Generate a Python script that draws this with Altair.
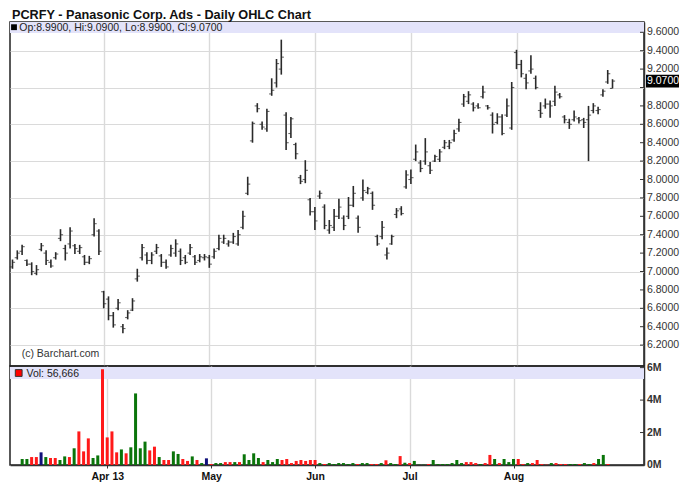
import altair as alt
import pandas as pd

# ---------------- data ----------------
hi = [7.13, 7.23, 7.29, 7.13, 7.10, 7.07, 7.31, 7.23, 7.13, 7.21,
      7.46, 7.29, 7.48, 7.30, 7.29, 7.18, 7.17, 7.58, 7.46, 6.79,
      6.73, 6.56, 6.70, 6.43, 6.58, 6.71, 7.03, 7.30, 7.21, 7.21,
      7.30, 7.19, 7.13, 7.29, 7.35, 7.25, 7.18, 7.30, 7.18, 7.19,
      7.19, 7.18, 7.25, 7.40, 7.40, 7.34, 7.42, 7.45, 7.66, 8.03,
      8.63, 8.83, 8.63, 8.77, 9.10, 9.31, 9.52, 8.73, 8.68, 8.40,
      8.05, 8.21, 7.80, 7.70, 7.88, 7.73, 7.56, 7.68, 7.79, 7.61,
      7.81, 7.93, 7.61, 8.00, 7.92, 7.87, 7.40, 7.55, 7.26, 7.40,
      7.69, 7.71, 8.10, 8.11, 8.38, 8.21, 8.45, 8.19, 8.27, 8.33,
      8.43, 8.43, 8.54, 8.66, 8.93, 8.96, 8.84, 8.83, 9.02, 8.81,
      8.73, 8.72, 8.71, 8.88, 9.06, 9.41, 9.30, 9.15, 9.35, 9.13,
      8.84, 8.88, 8.86, 9.02, 8.94, 8.70, 8.66, 8.75, 8.68, 8.67,
      8.80, 8.83, 8.79, 8.98, 9.19, 9.09]
lo = [7.03, 7.13, 7.18, 7.06, 6.96, 6.96, 7.22, 7.07, 7.04, 7.13,
      7.33, 7.12, 7.25, 7.19, 7.19, 7.07, 7.08, 7.38, 7.18, 6.60,
      6.47, 6.39, 6.58, 6.33, 6.48, 6.57, 6.89, 7.12, 7.08, 7.08,
      7.19, 7.05, 7.03, 7.16, 7.16, 7.07, 7.08, 7.18, 7.07, 7.10,
      7.12, 7.04, 7.14, 7.23, 7.30, 7.27, 7.30, 7.28, 7.46, 7.83,
      8.40, 8.73, 8.54, 8.52, 8.91, 9.00, 9.14, 8.32, 8.45, 8.22,
      7.95, 7.96, 7.61, 7.45, 7.79, 7.46, 7.41, 7.44, 7.57, 7.45,
      7.57, 7.70, 7.42, 7.77, 7.84, 7.67, 7.28, 7.35, 7.13, 7.29,
      7.58, 7.61, 7.90, 7.95, 8.20, 8.08, 8.16, 8.06, 8.19, 8.19,
      8.33, 8.33, 8.41, 8.52, 8.79, 8.82, 8.74, 8.77, 8.88, 8.76,
      8.50, 8.60, 8.48, 8.68, 8.54, 9.20, 9.11, 8.98, 9.15, 8.98,
      8.67, 8.77, 8.67, 8.80, 8.88, 8.61, 8.55, 8.63, 8.61, 8.56,
      8.20, 8.72, 8.71, 8.90, 9.04, 8.99]
op = [7.05, 7.15, 7.22, 7.12, 7.08, 6.98, 7.24, 7.20, 7.10, 7.15,
      7.36, 7.25, 7.30, 7.28, 7.22, 7.16, 7.10, 7.40, 7.44, 6.78,
      6.70, 6.52, 6.60, 6.40, 6.50, 6.58, 6.92, 7.15, 7.18, 7.12,
      7.22, 7.17, 7.10, 7.18, 7.20, 7.22, 7.15, 7.20, 7.16, 7.12,
      7.15, 7.15, 7.16, 7.25, 7.32, 7.30, 7.32, 7.30, 7.48, 7.85,
      8.42, 8.80, 8.60, 8.55, 8.93, 9.05, 9.20, 8.70, 8.50, 8.38,
      8.02, 8.00, 7.78, 7.65, 7.82, 7.70, 7.45, 7.48, 7.60, 7.58,
      7.60, 7.72, 7.58, 7.80, 7.86, 7.85, 7.38, 7.38, 7.18, 7.30,
      7.62, 7.68, 7.92, 8.00, 8.22, 8.18, 8.20, 8.15, 8.20, 8.22,
      8.35, 8.36, 8.43, 8.55, 8.82, 8.85, 8.82, 8.80, 8.90, 8.80,
      8.70, 8.62, 8.68, 8.70, 8.56, 9.38, 9.25, 9.10, 9.18, 9.10,
      8.75, 8.80, 8.82, 8.85, 8.92, 8.68, 8.62, 8.65, 8.66, 8.65,
      8.65, 8.75, 8.75, 8.92, 9.06, 8.99]
cl = [7.10, 7.20, 7.27, 7.08, 7.00, 7.02, 7.28, 7.12, 7.06, 7.19,
      7.40, 7.20, 7.44, 7.25, 7.26, 7.10, 7.14, 7.52, 7.22, 6.65,
      6.52, 6.42, 6.66, 6.38, 6.55, 6.68, 6.95, 7.26, 7.12, 7.18,
      7.26, 7.10, 7.05, 7.25, 7.30, 7.12, 7.10, 7.26, 7.10, 7.16,
      7.16, 7.08, 7.22, 7.36, 7.36, 7.32, 7.38, 7.40, 7.60, 7.95,
      8.61, 8.77, 8.57, 8.74, 8.97, 9.26, 9.33, 8.40, 8.66, 8.28,
      7.98, 8.10, 7.65, 7.55, 7.85, 7.50, 7.50, 7.60, 7.70, 7.50,
      7.72, 7.85, 7.48, 7.88, 7.90, 7.72, 7.30, 7.48, 7.20, 7.38,
      7.66, 7.63, 8.05, 8.02, 8.30, 8.12, 8.30, 8.10, 8.25, 8.30,
      8.40, 8.40, 8.50, 8.62, 8.90, 8.92, 8.78, 8.78, 8.95, 8.78,
      8.60, 8.68, 8.50, 8.80, 9.00, 9.25, 9.15, 9.05, 9.20, 9.00,
      8.72, 8.82, 8.80, 8.95, 8.90, 8.65, 8.60, 8.68, 8.64, 8.62,
      8.70, 8.80, 8.76, 8.96, 9.15, 9.07]
# volume in millions of shares
vol = [0.00, 0.37, 0.37, 0.49, 0.49, 0.78, 0.49, 0.43, 0.43, 0.31,
       0.53, 0.49, 1.03, 2.07, 0.84, 1.64, 0.43, 0.59, 5.90, 1.70,
       2.07, 0.78, 0.96, 0.72, 1.09, 4.41, 1.03, 1.44, 0.90, 1.13,
       0.49, 0.31, 0.31, 0.84, 0.68, 0.37, 0.25, 0.53, 0.31, 0.12,
       0.41, 0.06, 0.12, 0.12, 0.18, 0.18, 0.18, 0.18, 0.66, 0.31,
       0.72, 0.43, 0.18, 0.31, 0.18, 0.37, 0.31, 0.37, 0.12, 0.25,
       0.31, 0.25, 0.31, 0.31, 0.12, 0.06, 0.12, 0.06, 0.12, 0.12,
       0.06, 0.12, 0.06, 0.12, 0.12, 0.06, 0.06, 0.12, 0.29, 0.12,
       0.06, 0.55, 0.14, 0.12, 0.25, 0.02, 0.02, 0.06, 0.31, 0.06,
       0.06, 0.06, 0.12, 0.31, 0.12, 0.18, 0.18, 0.12, 0.06, 0.12,
       0.62, 0.37, 0.12, 0.37, 0.18, 0.37, 0.37, 0.06, 0.12, 0.12,
       0.31, 0.06, 0.02, 0.12, 0.12, 0.06, 0.06, 0.06, 0.06, 0.06,
       0.12, 0.06, 0.12, 0.37, 0.62, 0.06]
vdir = ["unch", "up", "up", "down", "down", "unch", "up", "down", "down", "up",
        "up", "down", "up", "down", "down", "down", "up", "up", "down", "down",
        "down", "down", "up", "down", "up", "up", "up", "up", "down", "down",
        "up", "down", "down", "up", "up", "down", "down", "up", "down", "up",
        "unch", "down", "up", "up", "down", "down", "up", "down", "up", "up",
        "up", "up", "down", "up", "up", "up", "down", "down", "down", "down",
        "down", "down", "down", "down", "up", "down", "up", "up", "up", "up",
        "up", "up", "down", "up", "up", "down", "down", "up", "down", "up",
        "up", "down", "up", "down", "up", "up", "up", "down", "up", "up",
        "up", "up", "up", "up", "up", "down", "down", "down", "up", "down",
        "down", "up", "down", "up", "up", "up", "down", "down", "up", "down",
        "down", "down", "down", "up", "down", "down", "down", "up", "up", "down",
        "up", "up", "down", "up", "up", "down"]

month_idx = [19, 41, 63, 83, 105]
month_lbl = ["Apr 13", "May", "Jun", "Jul", "Aug"]
price_ticks = [6.2, 6.4, 6.6, 6.8, 7.0, 7.2, 7.4, 7.6, 7.8, 8.0, 8.2, 8.4,
               8.6, 8.8, 9.0, 9.2, 9.4, 9.6]
vol_ticks = [0, 2, 4, 6]

title_txt = "PCRFY - Panasonic Corp. Ads - Daily OHLC Chart"
ohlc_txt = "Op:8.9900, Hi:9.0900, Lo:8.9900, Cl:9.0700"
vol_txt = "Vol: 56,666"
copy_txt = "(c) Barchart.com"
last_close = 9.07

# ---------------- frames ----------------
df = pd.DataFrame({"i": list(range(len(hi))), "o": op, "h": hi, "l": lo,
                   "c": cl, "v": vol, "d": vdir})
one = pd.DataFrame({"k": [0]})
# the 9.0000 label sits under the last-price box in the reference, so it is not written
pt = pd.DataFrame({"t": price_ticks,
                   "lab": ["" if abs(t - last_close) < 0.1 else f"{t:.4f}" for t in price_ticks]})
vt = pd.DataFrame({"t": vol_ticks, "lab": [f"{t}M" for t in vol_ticks]})
last = pd.DataFrame({"c": [last_close], "lo": [last_close - 0.07],
                     "hi": [last_close + 0.07],
                     "s": [f"{last_close:.4f}"]})

W = 634
PH = 344
VH = 99
FONT = "Liberation Sans"
GRID = "#dadada"
INK = "#2a2a2a"

xs = alt.Scale(domain=[-0.52, 131.56], nice=False, zero=False)
ys = alt.Scale(domain=[5.973, 9.712], nice=False, zero=False)
vs = alt.Scale(domain=[0, 6.1], nice=False, zero=True)

lbl_expr = " : ".join(
    f"datum.value == {v} ? '{l}'" for v, l in zip(month_idx, month_lbl)) + " : ''"

x_grid_axis = alt.Axis(values=month_idx, labels=False, ticks=False, domain=False,
                       grid=True, gridColor=GRID, gridWidth=1.4, title=None)
x_bottom_axis = alt.Axis(values=month_idx, labelExpr=lbl_expr, grid=True,
                         gridColor=GRID, gridWidth=1.4, title=None,
                         labelFont=FONT, labelFontSize=10.5, labelFontWeight="bold",
                         labelColor="#111", tickSize=3, tickColor="#333",
                         domainColor="#333", domainWidth=1.5, labelPadding=3)
y_price_axis = alt.Axis(orient="right", values=price_ticks, labels=False,
                        grid=True, gridColor=GRID, gridWidth=1, ticks=False,
                        domainColor="#333", domainWidth=1.5, title=None)
y_vol_axis = alt.Axis(orient="right", values=vol_ticks, labels=False,
                      grid=True, gridColor=GRID, gridWidth=1, ticks=False,
                      domainColor="#333", domainWidth=1.5, title=None)

# ---------------- price panel ----------------
band_p = alt.Chart(one).mark_rect(color="#e3e3fa").encode(
    x=alt.value(0), x2=alt.value(W), y=alt.value(0), y2=alt.value(11))

rules = alt.Chart(df).mark_rule(color=INK, strokeWidth=1.6).encode(
    x=alt.X("i:Q", scale=xs, axis=x_grid_axis),
    y=alt.Y("l:Q", scale=ys, axis=y_price_axis),
    y2="h:Q")
opens = alt.Chart(df).mark_tick(orient="horizontal", size=2.4, thickness=1.1,
                                xOffset=-1.4, color=INK).encode(
    x=alt.X("i:Q", scale=xs), y=alt.Y("o:Q", scale=ys))
closes = alt.Chart(df).mark_tick(orient="horizontal", size=2.4, thickness=1.1,
                                 xOffset=1.4, color=INK).encode(
    x=alt.X("i:Q", scale=xs), y=alt.Y("c:Q", scale=ys))

inner_ticks_p = alt.Chart(pt).mark_rule(color="#333", strokeWidth=1).encode(
    x=alt.value(W - 4), x2=alt.value(W), y=alt.Y("t:Q", scale=ys))
labels_p = alt.Chart(pt).mark_text(align="left", baseline="middle", font=FONT,
                                   fontSize=10.5, color="#333").encode(
    x=alt.value(W + 3), y=alt.Y("t:Q", scale=ys), text="lab:N")

box = alt.Chart(last).mark_rect(color="black").encode(
    x=alt.value(W + 2), x2=alt.value(W + 35),
    y=alt.Y("lo:Q", scale=ys), y2="hi:Q")
box_txt = alt.Chart(last).mark_text(align="left", baseline="middle", color="white",
                                    font=FONT, fontSize=10.5).encode(
    x=alt.value(W + 3), y=alt.Y("c:Q", scale=ys), text="s:N")

title_mark = alt.Chart(one).mark_text(text=title_txt, align="left", baseline="alphabetic",
                                      font=FONT, fontWeight="bold", fontSize=12.7,
                                      color="#111").encode(
    x=alt.value(2), y=alt.value(-3))
sq_p = alt.Chart(one).mark_square(size=34, color="black", opacity=1).encode(
    x=alt.value(4), y=alt.value(5.2))
ohlc_mark = alt.Chart(one).mark_text(text=ohlc_txt, align="left", baseline="alphabetic",
                                     font=FONT, fontSize=10.5, color="#222").encode(
    x=alt.value(9.3), y=alt.value(9))
copy_mark = alt.Chart(one).mark_text(text=copy_txt, align="left", baseline="alphabetic",
                                     font=FONT, fontSize=10.5, color="#333").encode(
    x=alt.value(11.7), y=alt.value(335))

price = alt.layer(band_p, rules, opens, closes, inner_ticks_p, labels_p, box, box_txt,
                  title_mark, sq_p, ohlc_mark, copy_mark).properties(width=W, height=PH)

# ---------------- volume panel ----------------
band_v = alt.Chart(one).mark_rect(color="#e3e3fa").encode(
    x=alt.value(0), x2=alt.value(W), y=alt.value(1), y2=alt.value(13))
bars = alt.Chart(df).mark_bar(size=3).encode(
    x=alt.X("i:Q", scale=xs, axis=x_bottom_axis),
    y=alt.Y("v:Q", scale=vs, axis=y_vol_axis),
    color=alt.Color("d:N", scale=alt.Scale(domain=["up", "down", "unch"],
                                           range=["#0a750a", "#ff1a1a", "#10107a"]),
                    legend=None))
inner_ticks_v = alt.Chart(vt).mark_rule(color="#333", strokeWidth=1).encode(
    x=alt.value(W - 4), x2=alt.value(W), y=alt.Y("t:Q", scale=vs))
labels_v = alt.Chart(vt).mark_text(align="left", baseline="middle", font=FONT,
                                   fontSize=10.5, fontWeight="bold", color="#333").encode(
    x=alt.value(W + 3), y=alt.Y("t:Q", scale=vs), text="lab:N")
sq_v = alt.Chart(one).mark_square(size=46, fill="#ff0000", stroke="#333",
                                  strokeWidth=1, filled=True, opacity=1).encode(
    x=alt.value(8.7), y=alt.value(7))
vol_mark = alt.Chart(one).mark_text(text=vol_txt, align="left", baseline="alphabetic",
                                    font=FONT, fontSize=10.5, color="#222").encode(
    x=alt.value(16.5), y=alt.value(11))

volume = alt.layer(band_v, bars, inner_ticks_v, labels_v, sq_v, vol_mark).properties(
    width=W, height=VH)

chart = alt.vconcat(price, volume, spacing=0, bounds="flush").properties(
    padding={"left": 1, "top": 0, "right": 0, "bottom": 5}
).configure_view(stroke="#222", strokeWidth=1.5).configure_concat(spacing=0)

chart.save("out.html", embed_options={"renderer": "svg", "actions": False})
